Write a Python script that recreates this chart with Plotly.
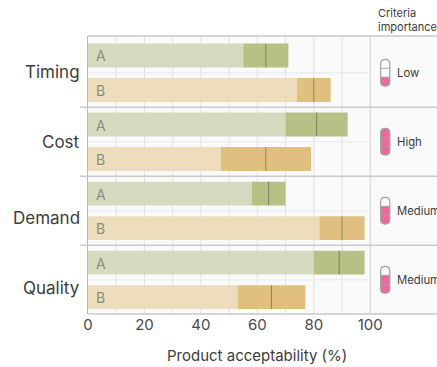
import plotly.graph_objects as go

criteria = ["Timing", "Cost", "Demand", "Quality"]
products = ["A", "B"]
# One (low, mid, high) triple per product within each criterion
a_low = [55, 70, 58, 80]
a_mid = [63, 81, 64, 89]
a_high = [71, 92, 70, 98]
b_low = [74, 47, 82, 53]
b_mid = [80, 63, 90, 65]
b_high = [86, 79, 98, 77]
importance_labels = ["Low", "High", "Medium", "Medium"]
importance_levels = [1, 3, 2, 2]
x_ticks = [0, 20, 40, 60, 80, 100]
x_grid = [10, 20, 30, 40, 50, 60, 70, 80, 90]
# the lower two criterion names sit a little below their rows
label_nudges = [1, 0, -7, -8]

FONT = "Inter, Noto Sans, sans-serif"
INK = "#3c3c3c"
A_LIGHT, A_DARK = "#d2d8b9", "#b6c186"
B_LIGHT, B_DARK = "#eddab7", "#e0bf80"
PINK = "#ea6a9c"
PILL_EDGE = "#a3a3a3"
RULE = "#c9c9c9"

fig = go.Figure()

rows_a = [2 * i for i in range(len(criteria))]
rows_b = [2 * i + 1 for i in range(len(criteria))]
BAR = 0.69

for rows, low, mid, high, light, dark in (
    (rows_a, a_low, a_mid, a_high, A_LIGHT, A_DARK),
    (rows_b, b_low, b_mid, b_high, B_LIGHT, B_DARK),
):
    fig.add_bar(y=rows, x=low, orientation="h", width=BAR, marker_color=light,
                marker_line_width=0, opacity=0.9, showlegend=False)
    fig.add_bar(y=rows, x=[h - l for h, l in zip(high, low)], base=low, orientation="h",
                width=BAR, marker_color=dark, marker_line_width=0, showlegend=False)
    fig.add_scatter(y=rows, x=mid, mode="markers", showlegend=False,
                    marker=dict(symbol="line-ns", size=17,
                                line=dict(width=1, color="rgba(90,90,70,0.6)")))

annotations = []
shapes = []

# A / B captions inside the bars
for rows, name in ((rows_a, products[0]), (rows_b, products[1])):
    for r in rows:
        annotations.append(dict(x=2.3, y=r, yshift=-0.5, text=name, showarrow=False, xanchor="left",
                                font=dict(family=FONT, size=14, color="#8c8c80")))

PILL_X = 105.3
for i, crit in enumerate(criteria):
    centre = 2 * i + 0.5
    annotations.append(dict(x=0, xref="paper", xshift=-6, y=centre, yshift=label_nudges[i], text=crit,
                            showarrow=False, xanchor="right",
                            font=dict(family=FONT, size=17, color=INK)))
    annotations.append(dict(x=PILL_X, xshift=9.5, y=centre, text=importance_labels[i],
                            showarrow=False, xanchor="left",
                            font=dict(family=FONT, size=11.3, color=INK)))

    # thin rule between the two products of a criterion
    shapes.append(dict(type="line", layer="below", x0=0, x1=100, y0=centre, y1=centre,
                       line=dict(color="#e9e9e9", width=1)))

    # importance gauge: pill outline, filled share, divisions
    w, h = 4.6, 13.4
    level = importance_levels[i]
    fill_top = -h + 2 * h * level / 3
    common = dict(type="path", xsizemode="pixel", ysizemode="pixel",
                  xanchor=PILL_X, yanchor=centre, xref="x", yref="y")
    bottom_cap = f"L {w} {-h + w} Q {w} {-h} 0 {-h} Q {-w} {-h} {-w} {-h + w} Z"
    if level < 3:
        fill_path = f"M {-w} {fill_top} L {w} {fill_top} " + bottom_cap
    else:
        fill_path = f"M {-w} {h - w} Q {-w} {h} 0 {h} Q {w} {h} {w} {h - w} " + bottom_cap
    outline = f"M {-w} {h - w} Q {-w} {h} 0 {h} Q {w} {h} {w} {h - w} " + bottom_cap
    shapes.append(dict(path=fill_path, fillcolor=PINK, line=dict(width=0), **common))
    for k in (1, 2):
        yy = -h + 2 * h * k / 3
        shapes.append(dict(path=f"M {-w} {yy} L {w} {yy}",
                           line=dict(color=PILL_EDGE, width=1), **common))
    shapes.append(dict(path=outline, fillcolor="rgba(0,0,0,0)",
                       line=dict(color=PILL_EDGE, width=1.2), **common))

# heavier rules between criteria, running into the label gutter
for i in range(1, len(criteria)):
    y = 2 * i - 0.5
    shapes.append(dict(type="line", xref="paper", x0=-8 / 349, x1=1, y0=y, y1=y,
                       line=dict(color=RULE, width=1.5)))
for edge in (0, 1):
    shapes.append(dict(type="line", xref="paper", yref="paper", x0=0, x1=1, y0=edge, y1=edge,
                       line=dict(color=RULE, width=1.5)))
shapes.append(dict(type="line", yref="paper", x0=100, x1=100, y0=0, y1=1, layer="below",
                   line=dict(color="#cfcfcf", width=1)))
for g in x_grid:
    shapes.append(dict(type="line", yref="paper", x0=g, x1=g, y0=0, y1=1, layer="below",
                       line=dict(color="#e2e2e2", width=1)))

annotations.append(dict(x=(376.5 - 88.3) / 348.7, y=1, xref="paper", yref="paper", yshift=0,
                        yanchor="bottom", xanchor="left", align="left", showarrow=False,
                        text="Criteria<br>importance",
                        font=dict(family=FONT, size=11, color=INK)))

# axis caption, placed by hand so it can sit left of the panel's centre
annotations.append(dict(x=60, y=0, yref="paper", yshift=-41, xshift=-0.5, yanchor="middle",
                        showarrow=False, text="Product acceptability (%)",
                        font=dict(family=FONT, size=15, color=INK)))

fig.update_layout(
    width=437, height=367, margin=dict(l=88.3, r=0, t=35.5, b=53),
    paper_bgcolor="white", plot_bgcolor="#fafafa", barmode="overlay",
    font=dict(family=FONT, color=INK),
    xaxis=dict(range=[0, 123.65], tickvals=x_ticks, showgrid=False, zeroline=False, ticks="",
               tickfont=dict(family=FONT, size=15, color="#4a4a4a")),
    yaxis=dict(range=[7.49, -0.564], showticklabels=False, showgrid=False, zeroline=False,
               showline=True, linecolor="#b8b8b8", linewidth=1, ticks=""),
    shapes=shapes, annotations=annotations,
)

fig.write_html("out.html", config={"displayModeBar": False})
